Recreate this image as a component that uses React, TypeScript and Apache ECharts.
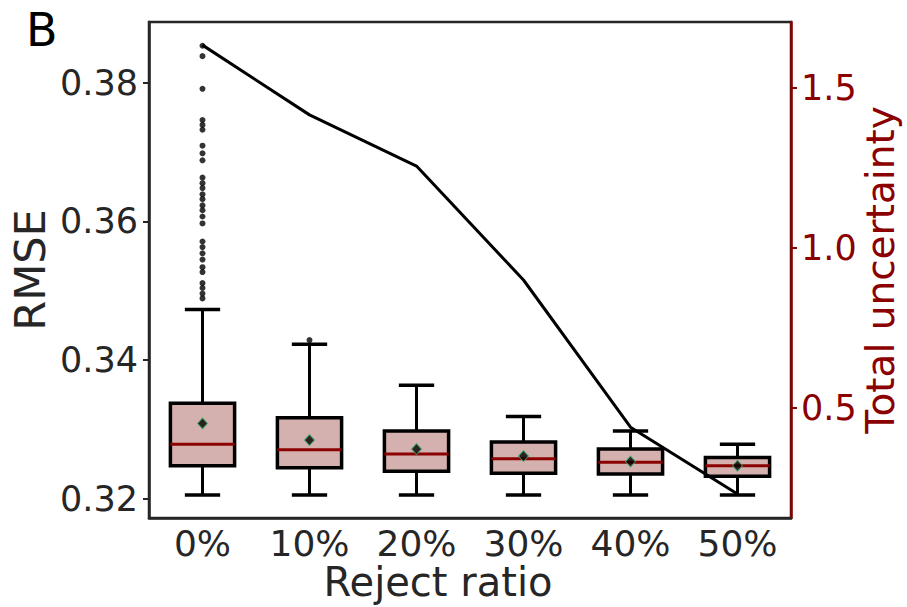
import React, { useEffect, useRef } from "react";
import * as echarts from "echarts";

const categories = ["0%", "10%", "20%", "30%", "40%", "50%"];
const whiskerLow = [0.3206, 0.3206, 0.3206, 0.3206, 0.3206, 0.3206];
const q1 = [0.3248, 0.3245, 0.324, 0.3237, 0.3236, 0.3233];
const medians = [0.3279, 0.3271, 0.3265, 0.3258, 0.3253, 0.3248];
const q3 = [0.3338, 0.3317, 0.3298, 0.3282, 0.3272, 0.326];
const whiskerHigh = [0.3473, 0.3423, 0.3364, 0.3319, 0.3298, 0.3279];
const means = [0.3309, 0.3285, 0.3272, 0.3262, 0.3254, 0.3248];
const uncertainty = [1.634, 1.416, 1.256, 0.9, 0.44, 0.231];
const outliers0 = [
  0.3853, 0.3838, 0.3791, 0.3746, 0.3739, 0.3732, 0.3709, 0.3698, 0.3688,
  0.3663, 0.3655, 0.3648, 0.3639, 0.3632, 0.3623, 0.3616, 0.3607, 0.3597,
  0.3571, 0.3563, 0.3554, 0.3545, 0.3534, 0.3527, 0.3511, 0.3504, 0.3496,
  0.3489,
];
const outliers10 = [0.3429];
const leftTicks = [0.32, 0.34, 0.36, 0.38];
const rightTicks = [0.5, 1.0, 1.5];

const FONT = "DejaVu Sans";
const TEXT = "#262626";
const RED = "#8b0000";

export default function App() {
  const ref = useRef<HTMLDivElement>(null);
  useEffect(() => {
    if (!ref.current) return;
    const chart = echarts.init(ref.current, null, { renderer: "svg" });
    const boxData = categories.map((_, i) => [
      i,
      whiskerLow[i],
      q1[i],
      medians[i],
      q3[i],
      whiskerHigh[i],
    ]);
    const outlierData: number[][] = [];
    outliers0.forEach((v) => outlierData.push([0, v]));
    outliers10.forEach((v) => outlierData.push([1, v]));

    chart.setOption({
      animation: false,
      backgroundColor: "#ffffff",
      textStyle: { fontFamily: FONT },
      grid: {
        left: 149,
        right: 116,
        top: 22,
        bottom: 89,
        containLabel: false,
        outerBoundsMode: "none",
        show: true,
        borderColor: TEXT,
        borderWidth: 2.5,
        backgroundColor: "transparent",
      },
      graphic: [
        {
          type: "text",
          left: 26,
          top: 7,
          style: { text: "B", fontSize: 46, fontFamily: FONT, fill: "#000" },
        },
      ],
      xAxis: {
        type: "category",
        data: categories,
        boundaryGap: true,
        axisLine: { show: true, lineStyle: { color: TEXT, width: 2.5 } },
        axisTick: { show: false },
        axisLabel: { interval: 0, fontSize: 36, color: TEXT, fontFamily: FONT, margin: 7 },
        name: "Reject ratio",
        nameLocation: "middle",
        nameMoveOverlap: false,
        nameGap: 44,
        nameTextStyle: {
          fontSize: 40,
          color: TEXT,
          fontFamily: FONT,
          padding: [0, 64, 0, 0],
        },
        splitLine: { show: false },
      },
      yAxis: [
        {
          type: "value",
          min: 0.31727,
          max: 0.38872,
          position: "left",
          axisLine: { show: true, lineStyle: { color: TEXT, width: 2.5 } },
          axisTick: {
            show: true,
            customValues: leftTicks,
            length: 6,
            lineStyle: { color: TEXT, width: 2 },
          },
          axisLabel: {
            customValues: leftTicks,
            fontSize: 35,
            color: TEXT,
            fontFamily: FONT,
            margin: 11,
            formatter: (v: number) => v.toFixed(2),
          },
          splitLine: { show: false },
          name: "RMSE",
          nameLocation: "middle",
          nameMoveOverlap: false,
          nameGap: 98,
          nameTextStyle: { fontSize: 43, color: TEXT, fontFamily: FONT },
        },
        {
          type: "value",
          min: 0.15625,
          max: 1.70625,
          position: "right",
          axisLine: { show: true, lineStyle: { color: RED, width: 2.5 } },
          axisTick: {
            show: true,
            customValues: rightTicks,
            length: 6,
            lineStyle: { color: RED, width: 2 },
          },
          axisLabel: {
            customValues: rightTicks,
            fontSize: 35,
            color: RED,
            fontFamily: FONT,
            margin: 10,
            formatter: (v: number) => v.toFixed(1),
          },
          splitLine: { show: false },
          name: "Total uncertainty",
          nameLocation: "middle",
          nameMoveOverlap: false,
          nameGap: 70,
          nameTextStyle: { fontSize: 39, color: RED, fontFamily: FONT },
        },
      ],
      series: [
        {
          type: "custom",
          yAxisIndex: 0,
          data: boxData,
          encode: { x: 0, y: [1, 2, 3, 4, 5] },
          renderItem: (params: any, api: any) => {
            const x = api.value(0);
            const pLow = api.coord([x, api.value(1)]);
            const pQ1 = api.coord([x, api.value(2)]);
            const pMed = api.coord([x, api.value(3)]);
            const pQ3 = api.coord([x, api.value(4)]);
            const pHigh = api.coord([x, api.value(5)]);
            const band = api.size([1, 0])[0];
            const hw = band * 0.3;
            const cw = band * 0.165;
            const cx = pMed[0];
            const ls = { stroke: "#000", lineWidth: 3 };
            return {
              type: "group",
              children: [
                { type: "line", shape: { x1: cx, y1: pLow[1], x2: cx, y2: pQ1[1] }, style: ls },
                { type: "line", shape: { x1: cx, y1: pQ3[1], x2: cx, y2: pHigh[1] }, style: ls },
                { type: "line", shape: { x1: cx - cw, y1: pLow[1], x2: cx + cw, y2: pLow[1] }, style: { ...ls, lineWidth: 3.5 } },
                { type: "line", shape: { x1: cx - cw, y1: pHigh[1], x2: cx + cw, y2: pHigh[1] }, style: { ...ls, lineWidth: 3.5 } },
                {
                  type: "rect",
                  shape: { x: cx - hw, y: pQ3[1], width: hw * 2, height: pQ1[1] - pQ3[1] },
                  style: { fill: "#d4b0af", stroke: "#000", lineWidth: 3.5 },
                },
                {
                  type: "line",
                  shape: { x1: cx - hw, y1: pMed[1], x2: cx + hw, y2: pMed[1] },
                  style: { stroke: RED, lineWidth: 3 },
                },
              ],
            };
          },
          z: 2,
        },
        {
          type: "scatter",
          yAxisIndex: 0,
          data: outlierData,
          symbol: "circle",
          symbolSize: 6,
          itemStyle: { color: "#000" },
          z: 3,
        },
        {
          type: "scatter",
          yAxisIndex: 0,
          data: means.map((v, i) => [i, v]),
          symbol: "diamond",
          symbolSize: [10, 11],
          itemStyle: { color: "#000", borderColor: "#3cb371", borderWidth: 1 },
          z: 4,
        },
        {
          type: "line",
          yAxisIndex: 1,
          data: uncertainty,
          showSymbol: false,
          symbol: "none",
          lineStyle: { color: "#000", width: 3 },
          z: 5,
        },
      ],
    });
    return () => chart.dispose();
  }, []);
  return (
    <div
      ref={ref}
      style={{ position: "absolute", left: 0, top: 0, width: 907, height: 607 }}
    />
  );
}
